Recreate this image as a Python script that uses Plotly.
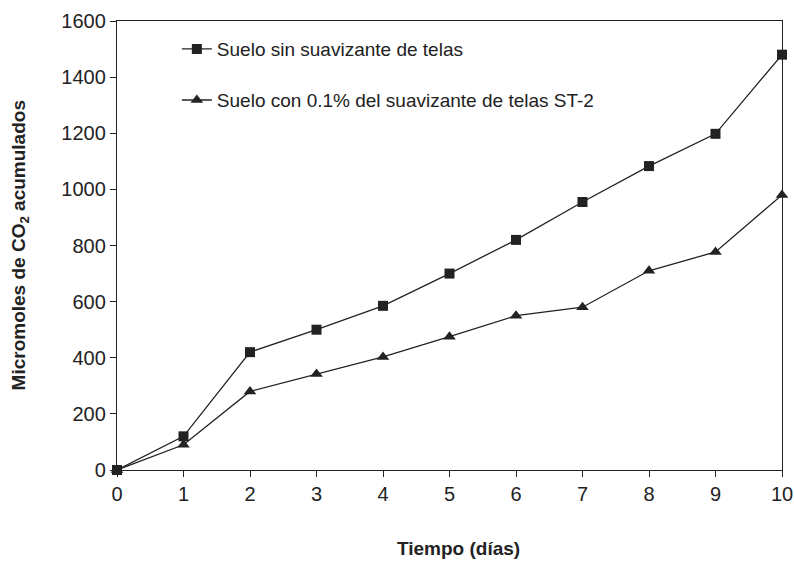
import plotly.graph_objects as go

dias = [0, 1, 2, 3, 4, 5, 6, 7, 8, 9, 10]
sin_suavizante = [0, 120, 420, 500, 585, 700, 820, 955, 1083, 1198, 1480]
con_st2 = [0, 90, 280, 342, 403, 475, 550, 580, 710, 777, 980]

serie1 = "Suelo sin suavizante de telas"
serie2 = "Suelo con 0.1% del suavizante de telas ST-2"
y_titulo = "Micromoles de CO<sub>2</sub> acumulados"
x_titulo = "Tiempo (días)"

ink = "#222222"
font_fam = "Liberation Sans, Arial, sans-serif"

fig = go.Figure()
fig.add_trace(go.Scatter(
    x=dias, y=sin_suavizante, name=serie1, mode="lines+markers",
    line=dict(color=ink, width=1.3),
    marker=dict(symbol="square", size=10, color=ink),
    legend="legend", cliponaxis=False,
))
fig.add_trace(go.Scatter(
    x=dias, y=con_st2, name=serie2, mode="lines+markers",
    line=dict(color=ink, width=1.3),
    marker=dict(symbol="triangle-up", size=11, color=ink),
    legend="legend2", cliponaxis=False,
))

legend_common = dict(
    bgcolor="rgba(0,0,0,0)", borderwidth=0,
    font=dict(family=font_fam, size=19, color=ink),
    xanchor="left", yanchor="middle", itemwidth=30,
)

fig.update_layout(
    width=794, height=561,
    margin=dict(l=117, r=12, t=21, b=91, autoexpand=False),
    paper_bgcolor="white", plot_bgcolor="white",
    font=dict(family=font_fam, color=ink),
    showlegend=True,
    legend=dict(x=0.09, y=(1600 - 100) / 1600, **legend_common),
    legend2=dict(x=0.09, y=(1600 - 282) / 1600, **legend_common),
    xaxis=dict(
        range=[0, 10], tickmode="array", tickvals=dias, ticktext=[str(d) for d in dias],
        showgrid=False, zeroline=False, showline=True, linecolor=ink, linewidth=1.3,
        mirror=True, ticks="outside", ticklen=6, tickcolor=ink, tickwidth=1.2,
        tickfont=dict(size=20, color=ink, family=font_fam), automargin=False,
    ),
    yaxis=dict(
        range=[0, 1600], tickmode="array", tickvals=list(range(0, 1601, 200)),
        showgrid=False, zeroline=False, showline=True, linecolor=ink, linewidth=1.3,
        mirror=True, ticks="outside", ticklen=6, tickcolor=ink, tickwidth=1.2,
        tickfont=dict(size=20, color=ink, family=font_fam), automargin=False,
    ),
    annotations=[
        dict(text=x_titulo, xref="paper", yref="paper", x=0.514, y=-0.174,
             xanchor="center", yanchor="middle", showarrow=False,
             font=dict(size=19, color=ink, family=font_fam, weight="bold")),
        dict(text=y_titulo, xref="paper", yref="paper", x=-0.146, y=0.5,
             xanchor="center", yanchor="middle", showarrow=False, textangle=-90,
             font=dict(size=19, color=ink, family=font_fam, weight="bold")),
    ],
)

fig.write_html("out.html")
